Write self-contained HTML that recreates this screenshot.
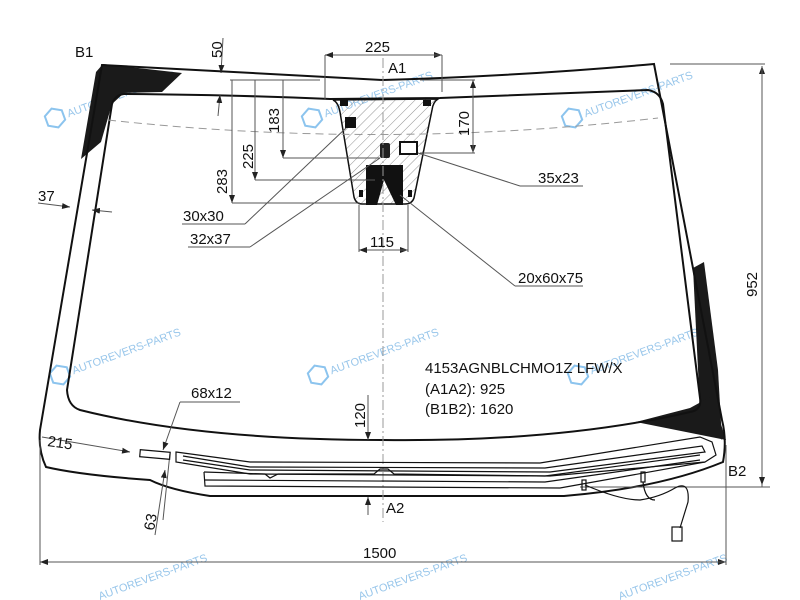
<!DOCTYPE html>
<html><head><meta charset="utf-8"><style>
html,body{margin:0;padding:0;background:#fff;}
svg{display:block;font-family:"Liberation Sans",sans-serif;}
.t{font-size:15px;fill:#111;}
.wm{font-size:11px;fill:#7fb8e6;opacity:.8;}
</style></head><body>
<svg width="800" height="600" viewBox="0 0 800 600" xmlns="http://www.w3.org/2000/svg">
<defs>
<pattern id="h" width="7" height="7" patternUnits="userSpaceOnUse" patternTransform="rotate(45)">
<line x1="0" y1="0" x2="0" y2="7" stroke="#777" stroke-width="0.8"/></pattern>
<marker id="a" markerWidth="8" markerHeight="6" refX="8" refY="3" orient="auto"><path d="M0,0 L8,3 L0,6 Z" fill="#222"/></marker>
</defs>
<!-- watermarks -->
<g>
<g transform="translate(55,118) rotate(-20)"><polygon points="0,-10 9,-5 9,5 0,10 -9,5 -9,-5" fill="none" stroke="#8cc4ee" stroke-width="2"/><text x="13" y="4" class="wm">AUTOREVERS-PARTS</text></g>
<g transform="translate(312,118) rotate(-20)"><polygon points="0,-10 9,-5 9,5 0,10 -9,5 -9,-5" fill="none" stroke="#8cc4ee" stroke-width="2"/><text x="13" y="4" class="wm">AUTOREVERS-PARTS</text></g>
<g transform="translate(572,118) rotate(-20)"><polygon points="0,-10 9,-5 9,5 0,10 -9,5 -9,-5" fill="none" stroke="#8cc4ee" stroke-width="2"/><text x="13" y="4" class="wm">AUTOREVERS-PARTS</text></g>
<g transform="translate(60,375) rotate(-20)"><polygon points="0,-10 9,-5 9,5 0,10 -9,5 -9,-5" fill="none" stroke="#8cc4ee" stroke-width="2"/><text x="13" y="4" class="wm">AUTOREVERS-PARTS</text></g>
<g transform="translate(318,375) rotate(-20)"><polygon points="0,-10 9,-5 9,5 0,10 -9,5 -9,-5" fill="none" stroke="#8cc4ee" stroke-width="2"/><text x="13" y="4" class="wm">AUTOREVERS-PARTS</text></g>
<g transform="translate(578,375) rotate(-20)"><polygon points="0,-10 9,-5 9,5 0,10 -9,5 -9,-5" fill="none" stroke="#8cc4ee" stroke-width="2"/><text x="13" y="4" class="wm">AUTOREVERS-PARTS</text></g>
<text transform="translate(100,600) rotate(-20)" class="wm">AUTOREVERS-PARTS</text>
<text transform="translate(360,600) rotate(-20)" class="wm">AUTOREVERS-PARTS</text>
<text transform="translate(620,600) rotate(-20)" class="wm">AUTOREVERS-PARTS</text>
</g>
<!-- black bands -->
<polygon points="103,64 182,73 162,92 124,93 112,104 101,142 81,159 96,72" fill="#1a1a1a"/>
<polygon points="693,268 704,262 718,370 722,440 700,410" fill="#1a1a1a"/>
<polygon points="636,422 690,408 712,396 726,440" fill="#1a1a1a"/>
<!-- outer glass -->
<path d="M102,65 Q240,72 383,80 Q520,76 654,64 L722,420 Q727,440 723,462 Q660,488 564,496 L210,496 Q170,490 150,480 Q80,475 46,467 Q38,450 40,430 Z" fill="none" stroke="#111" stroke-width="2"/>
<!-- inner edge -->
<path d="M124,94 Q240,95 330,99 L440,98 Q560,93 648,90 Q660,92 663,104 L700,398 Q702,410 690,412 Q560,442 383,440 Q200,440 80,410 Q68,406 67,390 L112,104 Q115,95 124,94 Z" fill="none" stroke="#111" stroke-width="2"/>
<!-- hatch zone -->
<path d="M333,100 L438,99 Q433,102 432,110 L414,198 Q412,204 405,204 L362,204 Q356,204 354,197 L340,112 Q338,102 333,100 Z" fill="url(#h)" stroke="#111" stroke-width="1.5"/>
<rect x="340" y="100" width="8" height="6" fill="#111"/><rect x="423" y="100" width="8" height="6" fill="#111"/>
<rect x="345" y="117" width="11" height="11" fill="#111"/>
<rect x="380" y="143" width="10" height="15" rx="2" fill="#222"/>
<rect x="400" y="142" width="17" height="12" fill="#fff" stroke="#111" stroke-width="2"/>
<path d="M366,165 L403,165 L403,205 L396,205 L384,180 L377,205 L366,205 Z" fill="#111"/>
<rect x="359" y="190" width="4" height="7" fill="#111"/><rect x="408" y="190" width="4" height="7" fill="#111"/>
<!-- dashed line -->
<path d="M108,120 Q383,150 658,118" fill="none" stroke="#999" stroke-width="1" stroke-dasharray="8,5"/>
<!-- centerline -->
<line x1="383" y1="58" x2="383" y2="522" stroke="#999" stroke-width="1" stroke-dasharray="10,3,2,3"/>
<!-- dims -->
<g stroke="#555" stroke-width="1" fill="none">
<line x1="325" y1="100" x2="325" y2="55"/><line x1="442" y1="92" x2="442" y2="55"/>
<line x1="325" y1="55" x2="442" y2="55" marker-end="url(#a)" /><line x1="442" y1="55" x2="325" y2="55" marker-end="url(#a)"/>
<line x1="230" y1="80" x2="320" y2="80"/>
<line x1="232" y1="80" x2="232" y2="203" marker-end="url(#a)"/><line x1="232" y1="203" x2="360" y2="203"/>
<line x1="255" y1="80" x2="255" y2="180" marker-end="url(#a)"/><line x1="255" y1="180" x2="375" y2="180"/>
<line x1="283" y1="80" x2="283" y2="158" marker-end="url(#a)"/><line x1="283" y1="158" x2="380" y2="158"/>
<line x1="420" y1="153" x2="475" y2="153"/><line x1="473" y1="80" x2="473" y2="153" marker-end="url(#a)"/><line x1="473" y1="153" x2="473" y2="80" marker-end="url(#a)"/>
<line x1="420" y1="80" x2="475" y2="80"/>
<line x1="359" y1="205" x2="359" y2="252"/><line x1="408" y1="205" x2="408" y2="252"/>
<line x1="359" y1="250" x2="408" y2="250" marker-end="url(#a)"/><line x1="408" y1="250" x2="359" y2="250" marker-end="url(#a)"/>
<line x1="223" y1="38" x2="221" y2="73" marker-end="url(#a)"/><line x1="218" y1="116" x2="220" y2="95" marker-end="url(#a)"/>
<line x1="38" y1="203" x2="70" y2="207" marker-end="url(#a)"/><line x1="112" y1="212" x2="92" y2="210" marker-end="url(#a)"/>
<line x1="670" y1="64" x2="765" y2="64"/><line x1="580" y1="487" x2="770" y2="487"/>
<line x1="762" y1="487" x2="762" y2="66" marker-end="url(#a)"/><line x1="762" y1="66" x2="762" y2="485" marker-end="url(#a)"/>
<line x1="40" y1="440" x2="40" y2="565"/><line x1="726" y1="445" x2="726" y2="565"/>
<line x1="40" y1="562" x2="726" y2="562" marker-end="url(#a)"/><line x1="726" y1="562" x2="40" y2="562" marker-end="url(#a)"/>
<line x1="368" y1="395" x2="368" y2="440" marker-end="url(#a)"/>
<line x1="368" y1="515" x2="368" y2="497" marker-end="url(#a)"/>
<line x1="42" y1="437" x2="130" y2="452" marker-end="url(#a)"/>
<line x1="155" y1="535" x2="165" y2="470" marker-end="url(#a)"/>
<line x1="163" y1="520" x2="170" y2="453"/>
<line x1="240" y1="402" x2="180" y2="402"/><line x1="180" y1="402" x2="163" y2="450" marker-end="url(#a)"/>
<line x1="583" y1="186" x2="520" y2="186"/><line x1="520" y1="186" x2="418" y2="153"/>
<line x1="182" y1="224" x2="245" y2="224"/><line x1="245" y1="224" x2="346" y2="128"/>
<line x1="188" y1="247" x2="250" y2="247"/><line x1="250" y1="247" x2="380" y2="158"/>
<line x1="583" y1="286" x2="515" y2="286"/><line x1="515" y1="286" x2="400" y2="195"/>
</g>
<!-- heating wires -->
<g fill="none" stroke="#111" stroke-width="1.2">
<rect x="140" y="451" width="30" height="7" transform="rotate(5 155 454)"/>
<path d="M176,452 L250,462 L540,463 L700,437 L712,442 L716,455 L705,462 L550,476 L250,474 L176,462 Z"/>
<path d="M183,456 L250,467 L545,468 L702,446 L705,452 L550,472 L250,470 L183,460"/>
<path d="M204,472 L205,486 L560,488 L705,462"/>
<path d="M204,472 L265,474 L270,478 L278,474 L374,474 L380,469 L388,469 L394,474 L545,476 L700,455"/>
<path d="M205,480 L545,482 L700,460"/>
<path d="M585,485 Q620,500 640,500 Q660,497 675,488 Q690,480 688,502 L680,528"/>
<rect x="582" y="480" width="4" height="10"/><rect x="641" y="472" width="4" height="10"/>
<path d="M643,482 Q645,500 655,500"/>
<rect x="672" y="527" width="10" height="14"/>
</g>
<!-- text -->
<text x="75" y="57" class="t">B1</text>
<text x="728" y="476" class="t">B2</text>
<text x="365" y="52" class="t">225</text>
<text x="388" y="73" class="t">A1</text>
<text x="386" y="513" class="t">A2</text>
<text transform="translate(222,58) rotate(-90)" class="t">50</text>
<text transform="translate(279,133) rotate(-90)" class="t">183</text>
<text transform="translate(253,169) rotate(-90)" class="t">225</text>
<text transform="translate(227,194) rotate(-90)" class="t">283</text>
<text transform="translate(469,136) rotate(-90)" class="t">170</text>
<text transform="translate(365,428) rotate(-90)" class="t">120</text>
<text transform="translate(757,297) rotate(-90)" class="t">952</text>
<text transform="translate(154,531) rotate(-80)" class="t">63</text>
<text transform="translate(47,446) rotate(8)" class="t">215</text>
<text x="38" y="201" class="t">37</text>
<text x="538" y="183" class="t">35x23</text>
<text x="183" y="221" class="t">30x30</text>
<text x="190" y="244" class="t">32x37</text>
<text x="370" y="247" class="t">115</text>
<text x="518" y="283" class="t">20x60x75</text>
<text x="191" y="398" class="t">68x12</text>
<text x="425" y="373" class="t">4153AGNBLCHMO1Z LFW/X</text>
<text x="425" y="394" class="t">(A1A2): 925</text>
<text x="425" y="414" class="t">(B1B2): 1620</text>
<text x="363" y="558" class="t">1500</text>
</svg>
</body></html>
